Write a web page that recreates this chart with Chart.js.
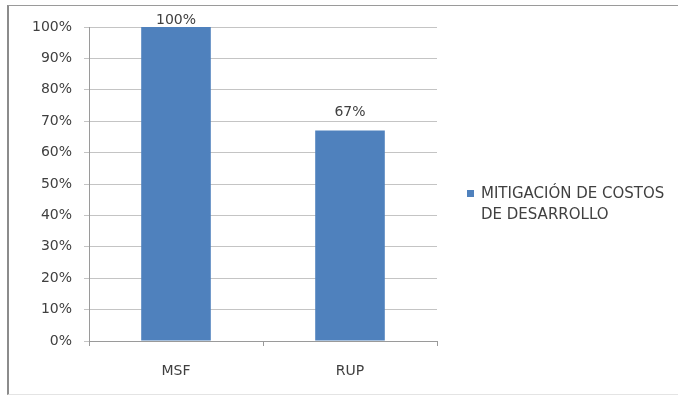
<!DOCTYPE html>
<html>
<head>
<meta charset="utf-8">
<script src="https://cdn.jsdelivr.net/npm/chart.js@4/dist/chart.umd.min.js"></script>
<style>
    html, body { margin: 0; padding: 0; background: #fff; }
    #wrap { position: relative; width: 678px; height: 396px; overflow: hidden; }
    #frame {
        position: absolute; left: 7px; top: 5px; width: 680px; height: 388px;
        border-left: 2px solid #8c8c8c; border-top: 1px solid #9a9a9a;
        border-bottom: 1px solid #e4e4e4;
    }
    #chart { position: absolute; left: 0; top: 0; }
    #legend {
        position: absolute; left: 467px; top: 183px; width: 210px;
        font-family: "DejaVu Sans", sans-serif; font-size: 15px; line-height: 21px;
        color: #404040;
    }
    #legend .box {
        position: absolute; left: 0; top: 7px; width: 7px; height: 7px;
    }
    #legend .txt { position: absolute; left: 14px; top: 0; width: 196px; }
</style>
</head>
<body>
<div id="wrap">
    <div id="frame"></div>
    <canvas id="chart" width="678" height="396"></canvas>
    <div id="legend"></div>
</div>
<script>
    const categories = ["MSF", "RUP"];
    const seriesName = "MITIGACIÓN DE COSTOS DE DESARROLLO";
    const seriesValues = [100, 67];
    const barColor = "#4f81bd";
    const textColor = "#404040";

    // percentage labels sitting on top of each bar
    const valueLabels = {
        id: "valueLabels",
        afterDatasetsDraw(chart) {
            const ctx = chart.ctx;
            const meta = chart.getDatasetMeta(0);
            ctx.save();
            ctx.font = "14px 'DejaVu Sans', sans-serif";
            ctx.fillStyle = textColor;
            ctx.textAlign = "center";
            ctx.textBaseline = "bottom";
            meta.data.forEach((bar, i) => {
                const y = Math.max(bar.y - 11, chart.chartArea.top);
                ctx.fillText(seriesValues[i] + "%", bar.x, y);
            });
            ctx.restore();
        },
    };

    const ctx = document.getElementById("chart").getContext("2d");
    new Chart(ctx, {
        type: "bar",
        data: {
            labels: categories,
            datasets: [
                {
                    label: seriesName,
                    data: seriesValues,
                    backgroundColor: barColor,
                    borderWidth: 0,
                    categoryPercentage: 0.8,
                    barPercentage: 0.5,
                },
            ],
        },
        options: {
            responsive: false,
            animation: false,
            layout: { padding: { top: 27, right: 241, left: 0, bottom: 0 } },
            plugins: {
                legend: { display: false },
                tooltip: { enabled: false },
            },
            scales: {
                y: {
                    min: 0,
                    max: 100,
                    afterFit: (s) => { s.width = 89; },
                    ticks: {
                        stepSize: 10,
                        padding: 12,
                        color: textColor,
                        font: { family: "DejaVu Sans", size: 14 },
                        callback: (v) => v + "%",
                    },
                    grid: { color: "#c4c4c4", tickLength: 5, lineWidth: 1 },
                    border: { color: "#9a9a9a" },
                },
                x: {
                    afterFit: (s) => { s.height = 55; },
                    ticks: {
                        padding: 17,
                        color: textColor,
                        font: { family: "DejaVu Sans", size: 14 },
                    },
                    grid: { drawOnChartArea: false, tickLength: 5, color: "#9a9a9a" },
                    border: { color: "#9a9a9a" },
                },
            },
        },
        plugins: [valueLabels],
    });

    // legend drawn beside the plot, wrapping onto two lines
    document.getElementById("legend").innerHTML =
        '<span class="box" style="background:' + barColor + '"></span>' +
        '<span class="txt">' + seriesName + "</span>";
</script>
</body>
</html>
